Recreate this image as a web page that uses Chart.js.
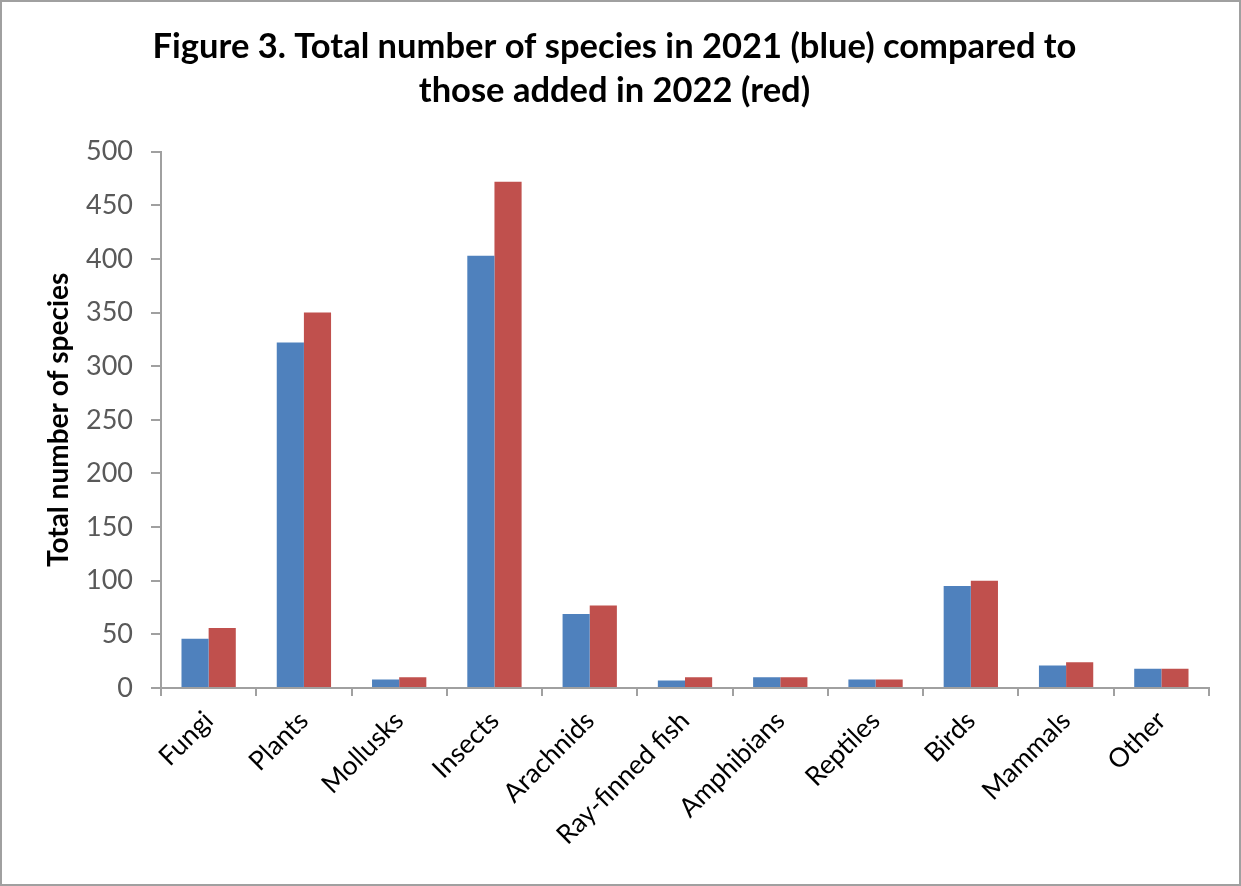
<!DOCTYPE html>
<html>
<head>
<meta charset="utf-8">
<script src="https://cdn.jsdelivr.net/npm/chart.js@4.4.1/dist/chart.umd.min.js"></script>
<style>
  html, body { margin: 0; padding: 0; background: #fff; }
  #wrap { width: 1241px; height: 886px; position: relative; }
  canvas { display: block; }
</style>
</head>
<body>
<div id="wrap"><canvas id="c" width="1241" height="886"></canvas></div>
<script>
const categories = ["Fungi", "Plants", "Mollusks", "Insects", "Arachnids", "Ray-finned fish", "Amphibians", "Reptiles", "Birds", "Mammals", "Other"];
const total2021 = [46, 322, 8, 403, 69, 7, 10, 8, 95, 21, 18];
const added2022 = [56, 350, 10, 472, 77, 10, 10, 8, 100, 24, 18];
const yTicks = [0, 50, 100, 150, 200, 250, 300, 350, 400, 450, 500];
const titleLines = ["Figure 3. Total number of species in 2021 (blue) compared to", "those added in 2022 (red)"];
const yTitle = "Total number of species";

const FONT = "Lato, 'Open Sans', sans-serif";

const borderPlugin = {
  id: 'frame',
  afterDraw(chart) {
    const ctx = chart.ctx;
    ctx.save();
    ctx.strokeStyle = '#a0a0a0';
    ctx.lineWidth = 2;
    ctx.strokeRect(1, 1, chart.width - 2, chart.height - 2);
    ctx.restore();
  }
};

new Chart(document.getElementById('c'), {
  type: 'bar',
  data: {
    labels: categories,
    datasets: [
      { label: '2021', data: total2021, backgroundColor: '#4F81BD', categoryPercentage: 0.57, barPercentage: 1.0 },
      { label: '2022', data: added2022, backgroundColor: '#C0504D', categoryPercentage: 0.57, barPercentage: 1.0 }
    ]
  },
  options: {
    responsive: false,
    animation: false,
    layout: { padding: { left: 20, right: 32, top: 0, bottom: 10 } },
    plugins: {
      legend: { display: false },
      tooltip: { enabled: false },
      title: {
        display: true,
        text: titleLines,
        color: '#000',
        font: { family: FONT, size: 34.5, weight: 'bold', lineHeight: 1.3 },
        padding: { top: 24, bottom: 38 }
      }
    },
    scales: {
      x: {
        offset: true,
        grid: { display: true, drawOnChartArea: false, offset: true, tickLength: 8, color: '#a0a0a0', lineWidth: 2 },
        border: { display: true, color: '#a0a0a0', width: 2 },
        ticks: { color: '#000', font: { family: FONT, size: 26.5 }, maxRotation: 45, minRotation: 45, padding: 9 },
        afterFit(scale) { scale.height = 188; }
      },
      y: {
        min: 0, max: 500,
        afterBuildTicks(scale) { scale.ticks = yTicks.map(v => ({ value: v })); },
        grid: { display: true, drawOnChartArea: false, tickLength: 10, color: '#a0a0a0', lineWidth: 2 },
        border: { display: true, color: '#a0a0a0', width: 2 },
        ticks: { color: '#595959', font: { family: FONT, size: 27 }, padding: 18 },
        title: { display: true, text: yTitle, color: '#000', font: { family: FONT, size: 28, weight: 'bold', lineHeight: 1.2 }, padding: { top: 22, bottom: 6 } },
        afterFit(scale) { scale.width = 141; }
      }
    }
  },
  plugins: [borderPlugin]
});
</script>
</body>
</html>
